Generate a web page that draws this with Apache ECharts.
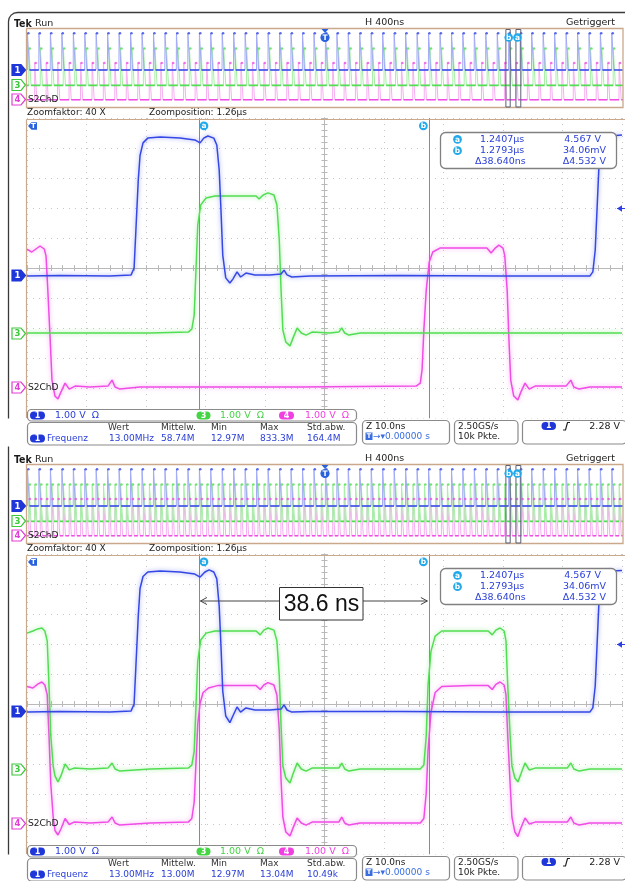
<!DOCTYPE html>
<html><head><meta charset="utf-8">
<script src="https://cdn.jsdelivr.net/npm/echarts@6.0.0/dist/echarts.min.js"></script>
<style>html,body{margin:0;padding:0;background:#fff}#c{width:625px;height:881px}</style>
</head><body><div id="c"></div>
<script>
// ---------------- DATA ----------------
const measHeaders = ['Wert', 'Mittelw.', 'Min', 'Max', 'Std.abw.'];
const measValues1 = ['13.00MHz', '58.74M', '12.97M', '833.3M', '164.4M'];
const measValues2 = ['13.00MHz', '13.00M', '12.97M', '13.04M', '10.49k'];
const cursorTimes = [28.9, 67.54];            // ns inside the 100 ns zoom window
const cursorRow1 = ['1.2407\u00b5s', '4.567 V'];
const cursorRow2 = ['1.2793\u00b5s', '34.06mV'];
const cursorRow3 = ['\u039438.640ns', '\u03944.532 V'];
const chScaleLabels = ['1.00 V  \u03a9', '1.00 V  \u03a9', '1.00 V  \u03a9'];
const ovTrigger = 2000;      // ns on the 4 µs overview record
const zoomStart = 3214;      // ns, start of the zoom window on the overview
const zoomLen = 100;
// rising edges of channel 1 on the overview record (ns)
const cycleStarts = [2, 79, 156, 233, 310, 387, 463, 540, 617, 694, 771, 848, 925, 1002, 1079, 1156, 1232, 1309,
  1386, 1463, 1540, 1617, 1694, 1771, 1848, 1925, 2002, 2079, 2155, 2232, 2309, 2386, 2463, 2540, 2617, 2694,
  2771, 2848, 2924, 3001, 3078, 3155, 3232, 3309, 3386, 3463, 3540, 3617, 3694, 3771, 3847, 3924];
const pulseOffsetsTopCh1 = [0];
const pulseOffsetsTopCh3 = [10];
const pulseOffsetsTopCh4 = [49];
const pulseOffsetsBotCh1 = [0];
const pulseOffsetsBotCh3 = [10, 49.5];
const pulseOffsetsBotCh4 = [10, 49.5];
const pulseWidth = 14, pulseLevel = 4.6, ovMax = 4000;

// zoomed traces [ns, V]
const topCh1 = [[0,-0.02],[5.5,0],[13.9,-0.02],[17.5,0.02],[18.0,0.25],[18.3,1.5],[18.7,3.18],[19.0,4.0],[19.5,4.42],[20.3,4.58],[22.4,4.62],[25.7,4.58],[28.2,4.52],[29.1,4.42],[29.7,4.58],[30.4,4.65],[31.4,4.58],[31.9,4.35],[32.3,3.52],[32.6,2.18],[32.9,0.68],[33.4,-0.08],[34.1,-0.25],[34.6,-0.12],[35.3,0.12],[35.9,-0.05],[36.8,0.08],[38.3,0.02],[40.8,0.02],[42.7,0.05],[43.2,0.18],[43.7,0.02],[44.5,-0.05],[47.6,-0.02],[62.7,0],[79.5,-0.02],[94.6,-0.02],[95.1,0.12],[95.5,0.85],[95.8,2.18],[96.1,3.52],[96.5,4.28],[97.0,4.55],[98.0,4.65],[100,4.68]];
const topCh3 = [[0,0],[12.3,0],[20.7,0],[27.1,0.03],[27.7,0.13],[28.1,0.6],[28.4,2.1],[28.7,3.6],[29.2,4.27],[30.1,4.5],[31.6,4.57],[35.8,4.57],[38.5,4.57],[39.0,4.47],[39.7,4.6],[40.5,4.67],[41.5,4.6],[42.0,4.27],[42.4,3.1],[42.7,1.43],[43.0,0.1],[43.5,-0.3],[44.2,-0.43],[44.7,-0.17],[45.4,0.17],[46.1,0],[46.9,-0.07],[47.9,0.03],[50.9,0],[52.4,0.03],[52.9,0.17],[53.4,0],[54.1,-0.07],[56.0,0],[100,0]];
const topCh4 = [[0,4.6],[0.8,4.5],[1.5,4.6],[2.2,4.7],[2.9,4.6],[3.2,4.37],[3.5,3.23],[3.9,1.57],[4.2,0.23],[4.7,-0.3],[5.2,-0.4],[5.7,-0.17],[6.4,0.13],[7.1,-0.07],[8.1,0.03],[10.6,0],[13.6,0.03],[14.3,0.23],[14.8,0],[15.6,-0.07],[19.0,0],[45.9,0],[65.4,0.03],[66.1,0.13],[66.4,0.57],[66.7,1.9],[67.1,3.23],[67.6,4.17],[68.2,4.5],[69.4,4.63],[72.8,4.63],[77.3,4.63],[78.0,4.47],[78.7,4.63],[79.3,4.73],[80.0,4.63],[80.3,4.37],[80.7,3.23],[81.0,1.57],[81.3,0.23],[81.8,-0.3],[82.5,-0.43],[83.0,-0.17],[83.7,0.13],[84.4,-0.07],[85.4,0.03],[90.6,0.03],[91.4,0.23],[91.9,0],[92.8,-0.07],[94.6,0],[100,0]];
const botCh1 = [[0,-0.02],[5.5,0],[13.9,-0.02],[17.5,0.02],[18.0,0.25],[18.3,1.5],[18.7,3.18],[19.0,4.1],[19.5,4.5],[20.3,4.65],[22.4,4.68],[25.7,4.65],[28.2,4.58],[29.1,4.48],[29.9,4.65],[30.6,4.72],[31.4,4.65],[31.9,4.42],[32.3,3.52],[32.6,2.18],[32.9,0.68],[33.4,-0.15],[34.1,-0.37],[34.6,-0.15],[35.3,0.15],[35.9,-0.02],[36.8,0.12],[38.3,0.05],[40.8,0.05],[42.7,0.08],[43.2,0.22],[43.7,0.05],[44.5,-0.02],[47.6,0],[62.7,0],[79.5,-0.02],[94.6,-0.02],[95.1,0.12],[95.5,0.85],[95.8,2.18],[96.1,3.52],[96.5,4.28],[97.0,4.58],[98.0,4.68],[100,4.7]];
const botCh3 = [[0,4.53],[1.0,4.6],[1.8,4.67],[2.5,4.7],[3.0,4.6],[3.4,4.27],[3.7,2.77],[4.0,1.1],[4.4,0.1],[4.7,-0.23],[5.2,-0.43],[5.7,-0.23],[6.4,0.17],[7.1,-0.03],[7.9,0.03],[10.6,0],[13.6,0.03],[14.3,0.2],[14.8,0],[15.6,-0.07],[20.7,0],[27.1,0.03],[27.7,0.13],[28.1,0.6],[28.4,2.1],[28.7,3.6],[29.2,4.3],[30.1,4.53],[31.6,4.6],[38.5,4.6],[39.2,4.47],[39.8,4.63],[40.5,4.7],[41.5,4.63],[42.0,4.27],[42.4,3.1],[42.7,1.43],[43.0,0.1],[43.5,-0.3],[44.2,-0.47],[44.7,-0.17],[45.4,0.2],[46.1,0],[46.9,-0.07],[47.9,0.03],[52.4,0.03],[52.9,0.2],[53.4,0],[54.1,-0.07],[56.0,0],[66.1,0],[66.7,0.13],[67.1,1.1],[67.4,2.77],[67.9,3.93],[68.6,4.43],[69.7,4.6],[74.5,4.6],[77.5,4.6],[78.2,4.47],[78.8,4.63],[79.5,4.7],[80.2,4.6],[80.5,4.27],[80.8,2.77],[81.2,1.1],[81.5,0.1],[82.0,-0.3],[82.5,-0.43],[83.0,-0.17],[83.7,0.2],[84.4,-0.03],[85.4,0.03],[90.8,0.03],[91.4,0.2],[91.9,0],[92.8,-0.07],[94.6,0],[100,0]];
const botCh4 = [[0,4.55],[1.0,4.5],[1.8,4.63],[2.5,4.7],[3.0,4.6],[3.4,4.27],[3.7,2.9],[4.0,1.3],[4.4,0.2],[4.7,-0.25],[5.2,-0.4],[5.7,-0.2],[6.4,0.15],[7.1,-0.05],[7.9,0.03],[10.6,0],[13.6,0.03],[14.3,0.2],[14.8,0],[15.6,-0.07],[20.7,0],[27.1,0.03],[27.7,0.15],[28.1,0.7],[28.4,2.0],[28.7,3.3],[29.1,4.0],[29.6,4.35],[30.5,4.5],[32,4.58],[38.5,4.58],[39.2,4.45],[39.8,4.6],[40.5,4.68],[41.5,4.6],[42.0,4.27],[42.4,3.1],[42.7,1.43],[43.0,0.2],[43.5,-0.3],[44.2,-0.43],[44.7,-0.17],[45.4,0.17],[46.1,0],[46.9,-0.07],[47.9,0.03],[52.4,0.03],[52.9,0.2],[53.4,0],[54.1,-0.07],[56,0],[66.1,0],[66.7,0.15],[67.1,1.0],[67.4,2.4],[67.9,3.7],[68.6,4.35],[69.7,4.55],[74.5,4.58],[77.5,4.58],[78.2,4.45],[78.8,4.62],[79.5,4.7],[80.2,4.6],[80.5,4.27],[80.8,2.9],[81.2,1.3],[81.5,0.2],[82.0,-0.3],[82.5,-0.45],[83.0,-0.17],[83.7,0.17],[84.4,-0.03],[85.4,0.03],[90.8,0.03],[91.4,0.2],[91.9,0],[92.8,-0.07],[94.6,0],[100,0]];

// ---------------- STYLE ----------------
const F = '"DejaVu Sans", Verdana, sans-serif';
const FC = '"DejaVu Sans Condensed", "DejaVu Sans", sans-serif';
const C1 = '#3548e6', C3 = '#52de52', C4 = '#f04ce6';
const C1L = '#a3abf7', C3L = '#a8f0a8', C4L = '#f8aef2';
const TXTB = '#2c40d8', CYAN = '#23a9ea', TAN = '#caa88c';
const PANEL_DY = 436;
// y ranges (V) so that 0 V sits on each channel's ground marker
const YR = {c1: [-4.75, 5.25], c3: [-2.833, 7.167], c4: [-1.033, 8.967]};

const chart = echarts.init(document.getElementById('c'), null, {width: 625, height: 881});

function pulses(offsets) {
  const line = [], lows = [], tops = [];
  let prev = 0;
  cycleStarts.forEach(s => offsets.forEach(o => {
    const r = s + o, f = r + pulseWidth;
    line.push([r, 0], [r + 1, pulseLevel], [f, pulseLevel], [f + 1, 0]);
    lows.push([prev, 0], [r, 0], [r, '-']);
    tops.push([r + pulseWidth / 2, pulseLevel]);
    prev = f + 1;
  }));
  lows.push([prev, 0], [ovMax, 0]);
  return {line, lows, tops};
}

const grids = [
  {left: 27, top: 28, width: 596, height: 80},
  {left: 27, top: 118, width: 595, height: 300},
  {left: 27, top: 28 + PANEL_DY, width: 596, height: 80},
  {left: 27, top: 118 + PANEL_DY, width: 595, height: 300}
].map(g => Object.assign({containLabel: false, outerBoundsMode: 'none', show: false}, g));

const hid = (dimGrid, min, max) => ({type: 'value', gridIndex: dimGrid, min, max, show: false,
  axisLine: {onZero: false}, splitLine: {show: false}});
const gratStyle = '#b9b9b9';
function gratX(grid, pos, onIdx, split) {
  return {type: 'value', gridIndex: grid, min: -5, max: 5, interval: 1, position: pos,
    axisLine: {show: true, onZero: true, onZeroAxisIndex: onIdx, lineStyle: {color: gratStyle, width: 1}},
    axisTick: {show: true, length: 3, lineStyle: {color: gratStyle}},
    minorTick: {show: true, splitNumber: 5, length: 3, lineStyle: {color: gratStyle}},
    axisLabel: {show: false},
    splitLine: {show: split, lineStyle: {color: '#c6c6c6', type: [1, 5], width: 1}}};
}

const xAxis = [
  hid(0, 0, ovMax),
  gratX(1, 'bottom', 3, true), gratX(1, 'top', 3, false), hid(1, 0, 100),
  hid(2, 0, ovMax),
  gratX(3, 'bottom', 11, true), gratX(3, 'top', 11, false), hid(3, 0, 100)
];
const yAxis = [
  hid(0, ...YR.c1), hid(0, ...YR.c3), hid(0, ...YR.c4),
  gratX(1, 'left', 1, true), gratX(1, 'right', 1, false),
  hid(1, ...YR.c1), hid(1, ...YR.c3), hid(1, ...YR.c4),
  hid(2, ...YR.c1), hid(2, ...YR.c3), hid(2, ...YR.c4),
  gratX(3, 'left', 5, true), gratX(3, 'right', 5, false),
  hid(3, ...YR.c1), hid(3, ...YR.c3), hid(3, ...YR.c4)
];

const series = [];
function addOverview(xi, yBase, offs, col, colL) {
  const p = pulses(offs);
  series.push({type: 'line', xAxisIndex: xi, yAxisIndex: yBase, data: p.line, showSymbol: false, silent: true,
    lineStyle: {color: colL, width: 1}, z: 2});
  series.push({type: 'line', xAxisIndex: xi, yAxisIndex: yBase, data: p.lows, showSymbol: false, silent: true,
    connectNulls: false, lineStyle: {color: col, width: 1.6}, z: 3});
  series.push({type: 'scatter', xAxisIndex: xi, yAxisIndex: yBase, data: p.tops, symbolSize: 2.6, silent: true,
    itemStyle: {color: col}, z: 3});
}
function trace(xi, yi, data, col, extra) {
  series.push(Object.assign({type: 'line', xAxisIndex: xi, yAxisIndex: yi, data, showSymbol: false, silent: true,
    lineStyle: {color: col, width: 1.5, shadowColor: col + '88', shadowBlur: 4}, z: 5}, extra || {}));
}
const cursorMark = {markLine: {silent: true, symbol: 'none', label: {show: false},
  lineStyle: {color: '#7282f2', width: 1, type: 'solid'}, data: cursorTimes.map(t => ({xAxis: t}))}};

// panel 1
addOverview(0, 2, pulseOffsetsTopCh4, C4, C4L);
addOverview(0, 1, pulseOffsetsTopCh3, C3, C3L);
addOverview(0, 0, pulseOffsetsTopCh1, C1, C1L);
trace(3, 7, topCh4, C4);
trace(3, 6, topCh3, C3);
trace(3, 5, topCh1, C1, cursorMark);
// panel 2
addOverview(4, 10, pulseOffsetsBotCh4, C4, C4L);
addOverview(4, 9, pulseOffsetsBotCh3, C3, C3L);
addOverview(4, 8, pulseOffsetsBotCh1, C1, C1L);
trace(7, 15, botCh4, C4);
trace(7, 14, botCh3, C3);
trace(7, 13, botCh1, C1, cursorMark);

chart.setOption({animation: false, backgroundColor: '#fff', grid: grids, xAxis, yAxis, series});

// ---------------- GRAPHIC OVERLAY ----------------
const Z = 50;
function T(x, y, s, o = {}) {
  return {type: 'text', z: o.z || Z + 2, silent: true, style: {x, y, text: s, fill: o.fill || '#222',
    font: (o.weight || 'normal') + ' ' + (o.size || 9) + 'px ' + (o.family || F),
    align: o.align || 'left', verticalAlign: 'middle', textAlign: o.align || 'left', textVerticalAlign: 'middle'}};
}
function R(x, y, w, h, o = {}) {
  return {type: 'rect', z: o.z || Z, silent: true, shape: {x, y, width: w, height: h, r: o.r || 0},
    style: {fill: o.fill === undefined ? '#fff' : o.fill, stroke: o.stroke || null, lineWidth: o.lw || 1}};
}
function L(x1, y1, x2, y2, col, lw) {
  return {type: 'line', z: Z, silent: true, shape: {x1, y1, x2, y2}, style: {stroke: col, lineWidth: lw || 1}};
}
function PL(points, col, lw) {
  return {type: 'polyline', z: Z + 1, silent: true, shape: {points}, style: {stroke: col, lineWidth: lw || 1, fill: null}};
}
function PG(points, fill, stroke) {
  return {type: 'polygon', z: Z, silent: true, shape: {points}, style: {fill, stroke: stroke || null, lineWidth: 1.2}};
}
function circ(cx, cy, r, fill, label) {
  return [{type: 'circle', z: Z, silent: true, shape: {cx, cy, r}, style: {fill}},
    T(cx, cy + 0.3, label, {fill: '#fff', size: 7.5, weight: 'bold', align: 'center'})];
}
function pill(x, y, w, h, fill, label) {
  return [R(x, y, w, h, {fill, r: h / 2, z: Z + 1}),
    T(x + w / 2, y + h / 2 + 0.3, label, {fill: '#fff', size: 8, weight: 'bold', align: 'center', z: Z + 3})];
}
function chMarker(y, label, col, filled) {
  const x = 12;
  return [PG([[x, y - 5.5], [x + 9, y - 5.5], [x + 13.5, y], [x + 9, y + 5.5], [x, y + 5.5]], filled ? col : '#fff', col),
    T(x + 5.5, y + 0.4, label, {fill: filled ? '#fff' : col, size: 8.5, weight: 'bold', align: 'center'})];
}

function panel(dy, vals, xa, xb, ovA, ovB, ovS, ovE, ovT) {
  const g = [];
  g.push(T(14, 24 + dy, 'Tek', {weight: 'bold', size: 10.5, fill: '#1a1a1a', family: FC}));
  g.push(T(35, 24 + dy, 'Run', {size: 9.5}));
  g.push(T(365, 23 + dy, 'H 400ns', {size: 9.5}));
  g.push(T(615, 23 + dy, 'Getriggert', {size: 9.5, align: 'right'}));
  // overview frame
  g.push(R(26.5, 28.5 + dy, 596.5, 79, {fill: null, stroke: TAN, lw: 1.3}));
  g.push(...chMarker(70 + dy, '1', '#1f36d8', true));
  g.push(...chMarker(85 + dy, '3', '#3cc83c', false));
  g.push(...chMarker(99.5 + dy, '4', '#e23cd6', false));
  g.push(T(28, 99.5 + dy, 'S2ChD', {size: 9, fill: '#222'}));
  // overview trigger marker
  g.push(PG([[ovT - 3.5, 29 + dy], [ovT + 3.5, 29 + dy], [ovT, 33 + dy]], '#2a62de'));
  g.push(...circ(ovT, 37.5 + dy, 4.6, '#2a62de', 'T'));
  // zoom window brackets
  g.push(R(ovS, 29.5 + dy, ovA - ovS, 77.5, {fill: null, stroke: '#5a6278', lw: 1}));
  g.push(R(ovB, 29.5 + dy, ovE - ovB, 77.5, {fill: null, stroke: '#5a6278', lw: 1}));
  g.push(...circ(ovA - 1.5, 37.5 + dy, 4.3, CYAN, 'b'));
  g.push(...circ(ovB + 1.5, 37.5 + dy, 4.3, CYAN, 'a'));
  // zoom caption
  g.push(T(27, 113 + dy, 'Zoomfaktor: 40 X', {size: 9}));
  g.push(T(149, 113 + dy, 'Zoomposition: 1.26\u00b5s', {size: 9}));
  // graticule border
  g.push(L(26.5, 119.5 + dy, 625, 119.5 + dy, TAN, 1.2));
  g.push(L(26.5, 119.5 + dy, 26.5, 418 + dy, TAN, 1.2));
  g.push(...chMarker(275.5 + dy, '1', '#1f36d8', true));
  g.push(...chMarker(333.5 + dy, '3', '#3cc83c', false));
  g.push(...chMarker(387.5 + dy, '4', '#e23cd6', false));
  g.push(T(28, 387.5 + dy, 'S2ChD', {size: 9, fill: '#222', z: Z + 6}));
  // trigger-position marker (left) and cursor labels
  g.push(PG([[28, 126 + dy], [31.5, 122.3 + dy], [37, 122.3 + dy], [37, 129.7 + dy], [31.5, 129.7 + dy]], '#2a62de'));
  g.push(T(33.5, 126.2 + dy, 'T', {fill: '#fff', size: 7, weight: 'bold', align: 'center'}));
  g.push(...circ(xa + 5, 125.8 + dy, 4.4, CYAN, 'a'));
  g.push(...circ(xb - 5.5, 125.8 + dy, 4.4, CYAN, 'b'));
  // trigger level arrow (right)
  g.push(PG([[617, 208.5 + dy], [622, 205.3 + dy], [622, 211.7 + dy]], '#2a3fe6'));
  g.push(L(617, 208.5 + dy, 625, 208.5 + dy, '#2a3fe6', 1));
  // cursor readout
  g.push(R(440.5, 132.5 + dy, 176, 36, {fill: '#fff', stroke: '#808080', lw: 1.3, r: 5}));
  g.push(...circ(457.5, 139.3 + dy, 4.4, CYAN, 'a'));
  g.push(...circ(457.5, 150.7 + dy, 4.4, CYAN, 'b'));
  g.push(T(480, 139.5 + dy, cursorRow1[0], {fill: TXTB, size: 9.5}));
  g.push(T(480, 150.9 + dy, cursorRow2[0], {fill: TXTB, size: 9.5}));
  g.push(T(475, 162 + dy, cursorRow3[0], {fill: TXTB, size: 9.5}));
  g.push(T(601, 139.5 + dy, cursorRow1[1], {fill: TXTB, size: 9.5, align: 'right'}));
  g.push(T(606, 150.9 + dy, cursorRow2[1], {fill: TXTB, size: 9.5, align: 'right'}));
  g.push(T(606, 162 + dy, cursorRow3[1], {fill: TXTB, size: 9.5, align: 'right'}));
  // channel bar
  g.push(R(0, 418.5 + dy, 625, 28, {fill: '#fff', z: Z - 1}));
  g.push(R(27.5, 409.5 + dy, 329, 11.5, {fill: '#fff', stroke: '#8a8a8a', lw: 1.2, r: 4}));
  g.push(...pill(30, 411.5 + dy, 15, 8, '#1f36d8', '1'));
  g.push(T(55, 415.5 + dy, chScaleLabels[0], {fill: TXTB, size: 9.5}));
  g.push(...pill(196.5, 411.5 + dy, 14, 8, '#44d444', '3'));
  g.push(T(220, 415.5 + dy, chScaleLabels[1], {fill: '#44d444', size: 9.5}));
  g.push(...pill(279, 411.5 + dy, 15, 8, '#f040e2', '4'));
  g.push(T(305, 415.5 + dy, chScaleLabels[2], {fill: '#f040e2', size: 9.5}));
  // measurement box
  g.push(R(27.5, 422.5 + dy, 329, 22.5, {fill: '#fff', stroke: '#8a8a8a', lw: 1.2, r: 4}));
  const mx = [108, 161, 211, 260, 307];
  measHeaders.forEach((h, i) => g.push(T(mx[i], 428 + dy, h, {size: 9, fill: '#333'})));
  g.push(...pill(30, 434.5 + dy, 15, 8, '#1f36d8', '1'));
  g.push(T(47, 438.8 + dy, 'Frequenz', {fill: TXTB, size: 9}));
  vals.forEach((v, i) => g.push(T(mx[i] + (i === 0 ? 1 : 0), 438.8 + dy, v, {fill: TXTB, size: 9})));
  // timebase box
  g.push(R(362.5, 420.5 + dy, 87, 23.5, {fill: '#fff', stroke: '#8a8a8a', lw: 1.2, r: 4}));
  g.push(T(366, 426.5 + dy, 'Z 10.0ns', {size: 9, fill: '#222'}));
  g.push(R(365.5, 432.5 + dy, 7, 7.5, {fill: '#3a6ee0', z: Z + 1}));
  g.push(T(369, 436.5 + dy, 'T', {fill: '#fff', size: 6.5, weight: 'bold', align: 'center'}));
  g.push(T(373, 436.5 + dy, '\u2192\u25be0.00000 s', {fill: '#3a6ee0', size: 9}));
  // sample box
  g.push(R(454.5, 420.5 + dy, 63.5, 23.5, {fill: '#fff', stroke: '#8a8a8a', lw: 1.2, r: 4}));
  g.push(T(458, 426.5 + dy, '2.50GS/s', {size: 9, fill: '#222'}));
  g.push(T(458, 437 + dy, '10k Pkte.', {size: 9, fill: '#222'}));
  // trigger box
  g.push(R(522.5, 420.5 + dy, 104, 23.5, {fill: '#fff', stroke: '#8a8a8a', lw: 1.2, r: 4}));
  g.push(...pill(541.5, 422 + dy, 14.5, 8, '#1f36d8', '1'));
  g.push(PL([[563, 430 + dy], [565.5, 430 + dy], [567.5, 422.5 + dy], [570, 422.5 + dy]], '#222', 1.2));
  g.push(T(620, 426.5 + dy, '2.28 V', {size: 9.5, fill: '#222', align: 'right'}));
  return g;
}

const xaTop = chart.convertToPixel({xAxisIndex: 3}, cursorTimes[0]);
const xbTop = chart.convertToPixel({xAxisIndex: 3}, cursorTimes[1]);
const xaBot = chart.convertToPixel({xAxisIndex: 7}, cursorTimes[0]);
const xbBot = chart.convertToPixel({xAxisIndex: 7}, cursorTimes[1]);
const ovPix = (t) => chart.convertToPixel({xAxisIndex: 0}, t);
const ovA = ovPix(zoomStart + cursorTimes[0]), ovB = ovPix(zoomStart + cursorTimes[1]);
const ovS = ovPix(zoomStart), ovE = ovPix(zoomStart + zoomLen), ovT = ovPix(ovTrigger);

const gfx = [];
// outer frame
gfx.push({type: 'rect', z: 1, silent: true, shape: {x: 8.5, y: 12.5, width: 640, height: 867, r: 9},
  style: {fill: null, stroke: '#3a3a3a', lineWidth: 1.3}});
gfx.push(...panel(0, measValues1, xaTop, xbTop, ovA, ovB, ovS, ovE, ovT));
gfx.push(...panel(PANEL_DY, measValues2, xaBot, xbBot, ovA, ovB, ovS, ovE, ovT));
// delta annotation in lower panel
const ay = 165 + PANEL_DY;
gfx.push(L(xaBot + 1.5, ay, 279.5, ay, '#444', 1));
gfx.push(PL([[xaBot + 8, ay - 3.5], [xaBot + 1.5, ay], [xaBot + 8, ay + 3.5]], '#444', 1));
gfx.push(L(363, ay, xbBot - 1.5, ay, '#444', 1));
gfx.push(PL([[xbBot - 8, ay - 3.5], [xbBot - 1.5, ay], [xbBot - 8, ay + 3.5]], '#444', 1));
gfx.push(R(279.5, 587.5, 83.5, 32.5, {fill: '#fff', stroke: '#333', lw: 1}));
gfx.push(T(321.5, 604.5, '38.6 ns', {size: 23, family: '"Liberation Sans", Arial, sans-serif', fill: '#111', align: 'center'}));

chart.setOption({graphic: gfx});
</script></body></html>
